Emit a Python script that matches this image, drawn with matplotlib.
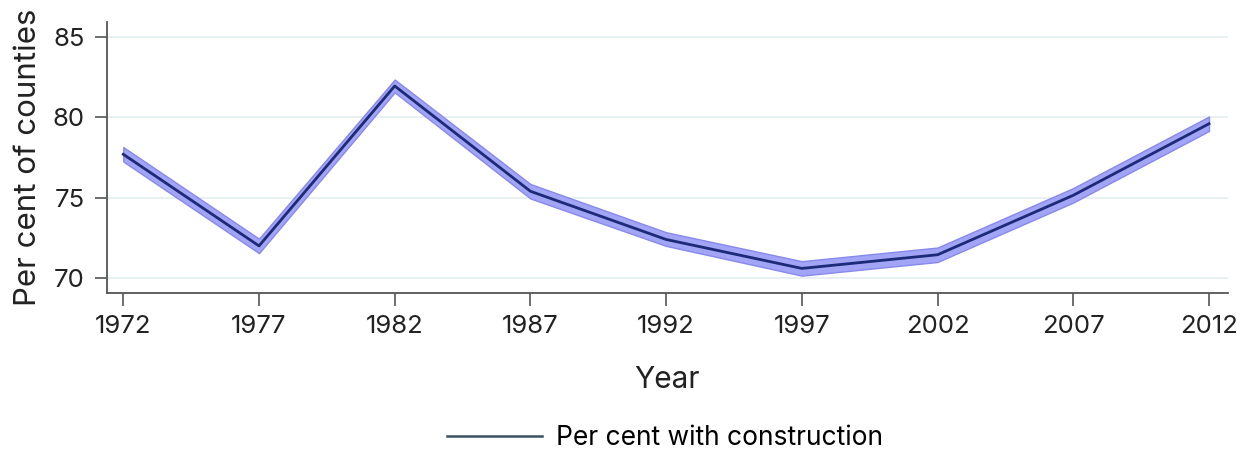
# construction share over time

import numpy as np
import matplotlib.pyplot as plt

plt.rcParams['font.family'] = ['Inter', 'DejaVu Sans']

years = [1972, 1977, 1982, 1987, 1992, 1997, 2002, 2007, 2012]
pct = [77.7, 72.0, 81.95, 75.4, 72.4, 70.6, 71.45, 75.15, 79.6]
lower = [77.25, 71.55, 81.55, 74.95, 72.0, 70.15, 71.0, 74.7, 79.15]
upper = [78.15, 72.45, 82.35, 75.85, 72.85, 71.05, 71.9, 75.6, 80.05]
yticks = [70, 75, 80, 85]

fig = plt.figure(figsize=(12.5, 4.53), dpi=100)
ax = fig.add_axes([0.0856, 0.3532, 0.8968, 0.5982])

ax.fill_between(years, lower, upper, facecolor='#a2a4f6', edgecolor='#8789ec',
                linewidth=1.0, zorder=2)
ax.plot(years, pct, color='#1c2a78', lw=2.0, zorder=3)

ax.set_xlim(1971.4, 2012.7)
ax.set_ylim(69.07, 85.93)
ax.set_xticks(years)
ax.set_yticks(yticks)
ax.grid(axis='y', color='#e3eef0', lw=1.2, zorder=0)
ax.set_axisbelow(True)

for s in ['top', 'right']:
    ax.spines[s].set_visible(False)
for s in ['left', 'bottom']:
    ax.spines[s].set_color('#555555')
    ax.spines[s].set_linewidth(1.3)

ax.tick_params(axis='both', length=9, width=1.2, color='#555555',
               labelsize=18.5, labelcolor='#222222', pad=7)
ax.set_xlabel('Year', fontsize=21.5, color='#222222', labelpad=20)
ax.set_ylabel('Per cent of counties', fontsize=22.5, color='#222222', labelpad=8)

handle = plt.Line2D([], [], color='#3b5060', lw=1.8)
fig.legend([handle], ['Per cent with construction'], loc='center',
           bbox_to_anchor=(0.532, 0.033), frameon=False, fontsize=19,
           handlelength=3.6, handletextpad=0.55)

fig.savefig('out.png', dpi=100)
